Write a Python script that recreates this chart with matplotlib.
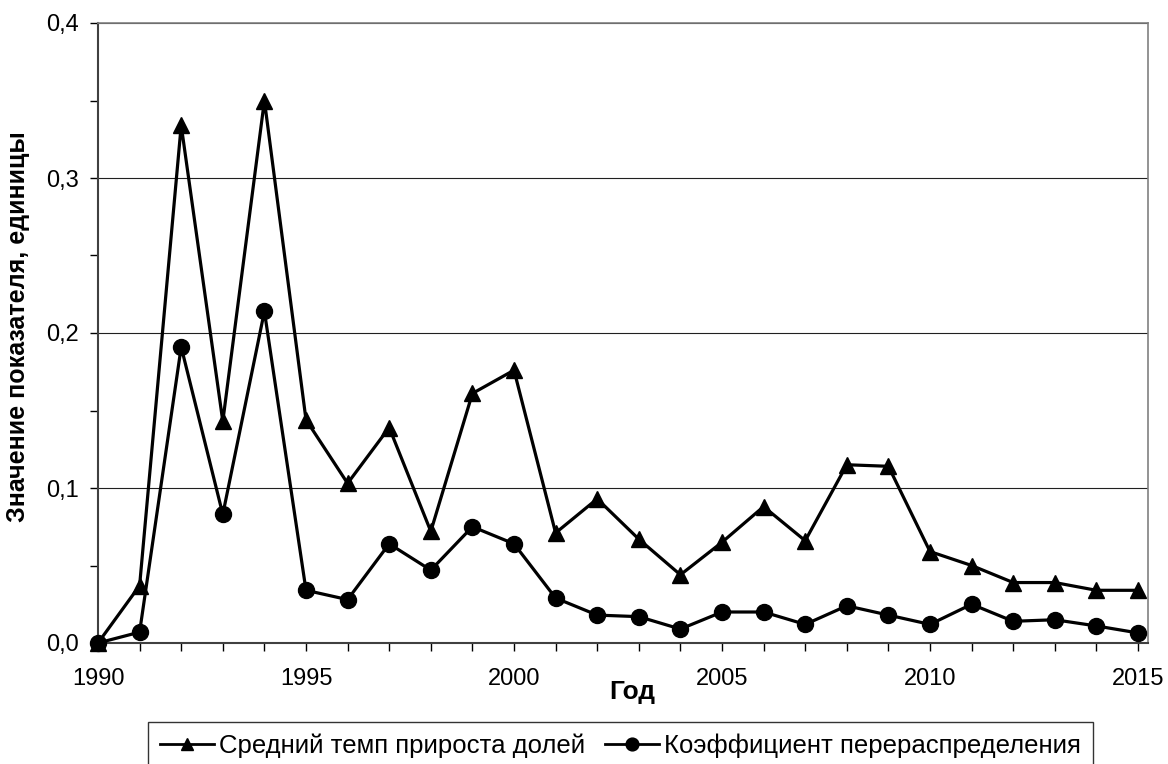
import numpy as np
import matplotlib
matplotlib.use("Agg")
import matplotlib.pyplot as plt
from matplotlib.ticker import MultipleLocator, FuncFormatter

plt.rcParams['font.family'] = ['Liberation Sans', 'DejaVu Sans']

years = list(range(1990, 2016))

# Средний темп прироста долей
growth = [0.000, 0.037, 0.334, 0.143, 0.350, 0.144, 0.103, 0.139, 0.072, 0.161,
          0.176, 0.071, 0.093, 0.067, 0.044, 0.065, 0.088, 0.066, 0.115, 0.114,
          0.059, 0.050, 0.039, 0.039, 0.034, 0.034]

# Коэффициент перераспределения
redistr = [0.000, 0.007, 0.191, 0.083, 0.214, 0.034, 0.028, 0.064, 0.047, 0.075,
           0.064, 0.029, 0.018, 0.017, 0.009, 0.020, 0.020, 0.012, 0.024, 0.018,
           0.012, 0.025, 0.014, 0.015, 0.011, 0.0065]

fig = plt.figure(figsize=(11.68, 7.64), dpi=100)
ax = fig.add_axes([98 / 1168, 1 - 643 / 764, 1050 / 1168, 620 / 764])

ax.plot(years, growth, color='black', lw=2.3, marker='^', ms=11.5,
        label='Средний темп прироста долей', clip_on=False, zorder=3)
ax.plot(years, redistr, color='black', lw=2.3, marker='o', ms=11.5,
        label='Коэффициент перераспределения', clip_on=False, zorder=3)

# plot area runs a little past the last year
ax.set_xlim(1990, 2015.24)
ax.set_ylim(0, 0.4)
ax.xaxis.set_major_locator(MultipleLocator(5))
ax.xaxis.set_minor_locator(MultipleLocator(1))
ax.yaxis.set_major_locator(MultipleLocator(0.1))
ax.yaxis.set_minor_locator(MultipleLocator(0.05))
ax.yaxis.set_major_formatter(FuncFormatter(lambda v, p: f'{v:.1f}'.replace('.', ',')))

ax.tick_params(axis='both', which='major', length=6, width=1, labelsize=17, direction='out')
ax.tick_params(axis='both', which='minor', length=6, width=1, direction='out')
ax.tick_params(axis='x', which='major', pad=12)
ax.tick_params(axis='y', which='major', pad=8)

ax.grid(axis='y', which='major', color='#202020', lw=0.8)
for s in ['left', 'bottom']:
    ax.spines[s].set_color('#404040')
    ax.spines[s].set_linewidth(1.5)
for s in ['top', 'right']:
    ax.spines[s].set_color('#808080')
    ax.spines[s].set_linewidth(1.2)

ax.set_xlabel('Год', fontsize=19, fontweight='bold')
ax.xaxis.set_label_coords((632 - 98) / 1050, (643 - 680) / 620)
ax.set_ylabel('Значение показателя, единицы', fontsize=18, fontweight='bold')
ax.yaxis.set_label_coords((30 - 98) / 1050, 0.51)

leg = fig.legend(loc='upper left', bbox_to_anchor=(148 / 1168, 1 - 722 / 764), ncol=2,
                 fontsize=18.5, frameon=True, fancybox=False, edgecolor='black',
                 handlelength=2.1, handletextpad=0.2, columnspacing=0.8,
                 borderpad=0.45, borderaxespad=0, markerscale=0.8)
leg.get_frame().set_linewidth(1.0)
for line in leg.get_lines():
    line.set_linewidth(2.0)

fig.savefig('out.png', dpi=100)
